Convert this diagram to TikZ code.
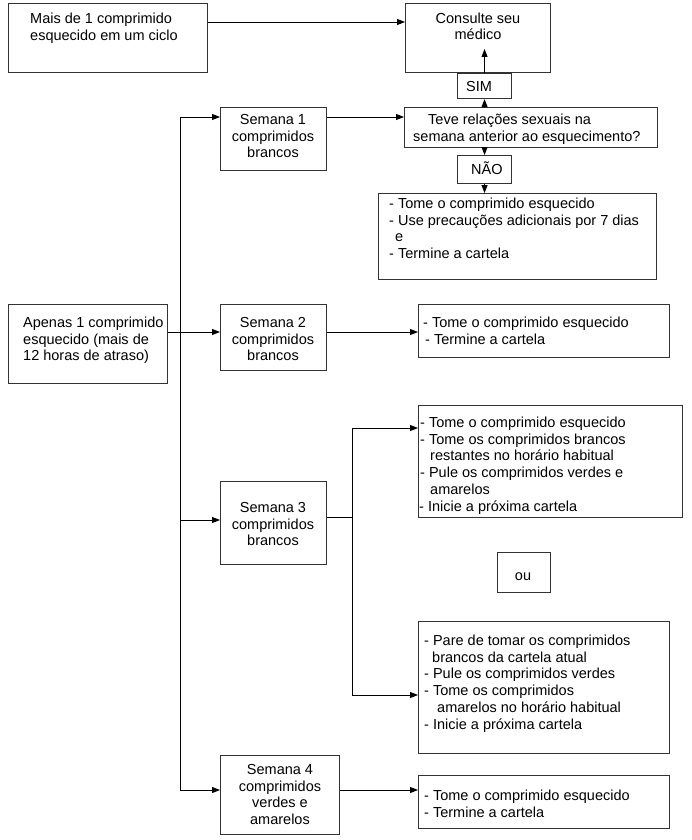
\documentclass[tikz,border=0pt]{standalone}
\usepackage{fontspec}
\setmainfont{Liberation Sans}
\usetikzlibrary{arrows.meta}
\newcommand\mystrut{\rule{0pt}{11.5pt}}
\begin{document}
\begin{tikzpicture}[x=1pt,y=-1pt,
  box/.style={draw=black!80, line width=1.1pt, inner sep=0pt, anchor=north west},
  txt/.style={inner sep=0pt, anchor=north west, align=left, font=\fontsize{14.5}{16.8}\selectfont},
  ctxt/.style={txt, anchor=north, align=center},
  btxt/.style={inner sep=0pt, anchor=base west, font=\fontsize{14.5}{16.8}\selectfont},
  conn/.style={line width=0.9pt},
  arr/.style={conn, -{Triangle[length=8pt,width=6pt]}}]
\useasboundingbox (0,0) rectangle (692,840);

% boxes
\node[box, minimum width=199pt, minimum height=69pt] (mais) at (8,3) {};
\node[box, minimum width=145pt, minimum height=69pt] (cons) at (405,3) {};
\node[box, minimum width=54pt, minimum height=25pt] (sim) at (457,73) {};
\node[box, minimum width=253pt, minimum height=40pt] (teve) at (404,107) {};
\node[box, minimum width=54pt, minimum height=28pt] (nao) at (457,155) {};
\node[box, minimum width=278pt, minimum height=86pt] (l1) at (378,193) {};
\node[box, minimum width=106pt, minimum height=63pt] (sem1) at (220,107) {};
\node[box, minimum width=159pt, minimum height=79pt] (apenas) at (8,304) {};
\node[box, minimum width=106pt, minimum height=66pt] (sem2) at (220,304) {};
\node[box, minimum width=251pt, minimum height=53pt] (l2) at (418,304) {};
\node[box, minimum width=106pt, minimum height=83pt] (sem3) at (220,481) {};
\node[box, minimum width=264pt, minimum height=112pt] (l3a) at (418,405) {};
\node[box, minimum width=53pt, minimum height=40pt] (ou) at (497,552) {};
\node[box, minimum width=251pt, minimum height=132pt] (l3b) at (418,621) {};
\node[box, minimum width=119pt, minimum height=79pt] (sem4) at (220,755) {};
\node[box, minimum width=251pt, minimum height=53pt] (l4) at (418,775) {};

% texts
\node[txt] (maist) at (30,12) {\mystrut Mais de 1 comprimido\\esquecido em um ciclo};
\node[ctxt] (const) at (478,11.5) {\mystrut Consulte seu\\médico};
\node[btxt] (simt) at (466,92) {SIM};
\node[txt] (tevet) at (413,112.5) {\mystrut\hspace*{15pt}Teve relações sexuais na\\semana anterior ao esquecimento?};
\node[btxt] (naot) at (471,174) {NÃO};
\node[txt] (l1t) at (389,196.5) {\mystrut - Tome o comprimido esquecido\\- Use precauções adicionais por 7 dias\\\hspace*{6pt}e\\- Termine a cartela};
\node[ctxt] (sem1t) at (273,112.5) {\mystrut Semana 1\\comprimidos\\brancos};
\node[txt] (apenast) at (23,315.5) {\mystrut Apenas 1 comprimido\\esquecido (mais de\\12 horas de atraso)};
\node[ctxt] (sem2t) at (273,315.5) {\mystrut Semana 2\\comprimidos\\brancos};
\node[txt] (l2t) at (423,315.5) {\mystrut - Tome o comprimido esquecido\\\hspace*{2pt}- Termine a cartela};
\node[ctxt] (sem3t) at (273,500.5) {\mystrut Semana 3\\comprimidos\\brancos};
\node[txt] (l3at) at (420,415.5) {\mystrut - Tome o comprimido esquecido\\- Tome os comprimidos brancos\\\hspace*{10pt}restantes no horário habitual\\- Pule os comprimidos verdes e\\\hspace*{10pt}amarelos\\\hspace*{-1pt}- Inicie a próxima cartela};
\node[inner sep=0pt, anchor=base, font=\fontsize{14.5}{16.8}\selectfont] (out) at (523,580) {ou};
\node[txt] (l3bt) at (424,633.5) {\mystrut - Pare de tomar os comprimidos\\\hspace*{8pt}brancos da cartela atual\\- Pule os comprimidos verdes\\- Tome os comprimidos\\\hspace*{13pt}amarelos no horário habitual\\- Inicie a próxima cartela};
\node[ctxt] (sem4t) at (280,762.5) {\mystrut Semana 4\\comprimidos\\verdes e\\amarelos};
\node[txt] (l4t) at (424,788.5) {\mystrut - Tome o comprimido esquecido\\- Termine a cartela};

% connectors
\coordinate (yM) at (0,22);
\draw[arr] (mais.east |- yM) -- (cons.west |- yM);
\draw[arr] (sim.south |- teve.north) -- (sim.south);
\coordinate (simtip) at (484,49);
\draw[arr] (sim.north) -- (sim.north |- simtip);
\draw[arr] (nao.north |- teve.south) -- (nao.north);
\draw[arr] (nao.south) -- (nao.south |- l1.north);

\coordinate (t1) at (180,117);
\coordinate (t3) at (180,520);
\coordinate (t4) at (180,790);
\draw[conn] (t1) -- (t4);
\draw[arr] (t1) -- (t1 -| sem1.west);
\draw[arr] (t1 -| sem1.east) -- (t1 -| teve.west);
\coordinate (y2) at (0,332);
\draw[arr] (y2 -| apenas.east) -- (y2 -| sem2.west);
\draw[arr] (y2 -| sem2.east) -- (y2 -| l2.west);
\draw[arr] (t3) -- (t3 -| sem3.west);
\coordinate (b0) at (352,517);
\coordinate (b1) at (352,428);
\coordinate (b2) at (352,695);
\draw[conn] (b0 -| sem3.east) -- (b0);
\draw[conn] (b1) -- (b2);
\draw[arr] (b1) -- (b1 -| l3a.west);
\draw[arr] (b2) -- (b2 -| l3b.west);
\draw[arr] (t4) -- (t4 -| sem4.west);
\draw[arr] (t4 -| sem4.east) -- (t4 -| l4.west);
\end{tikzpicture}
\end{document}
